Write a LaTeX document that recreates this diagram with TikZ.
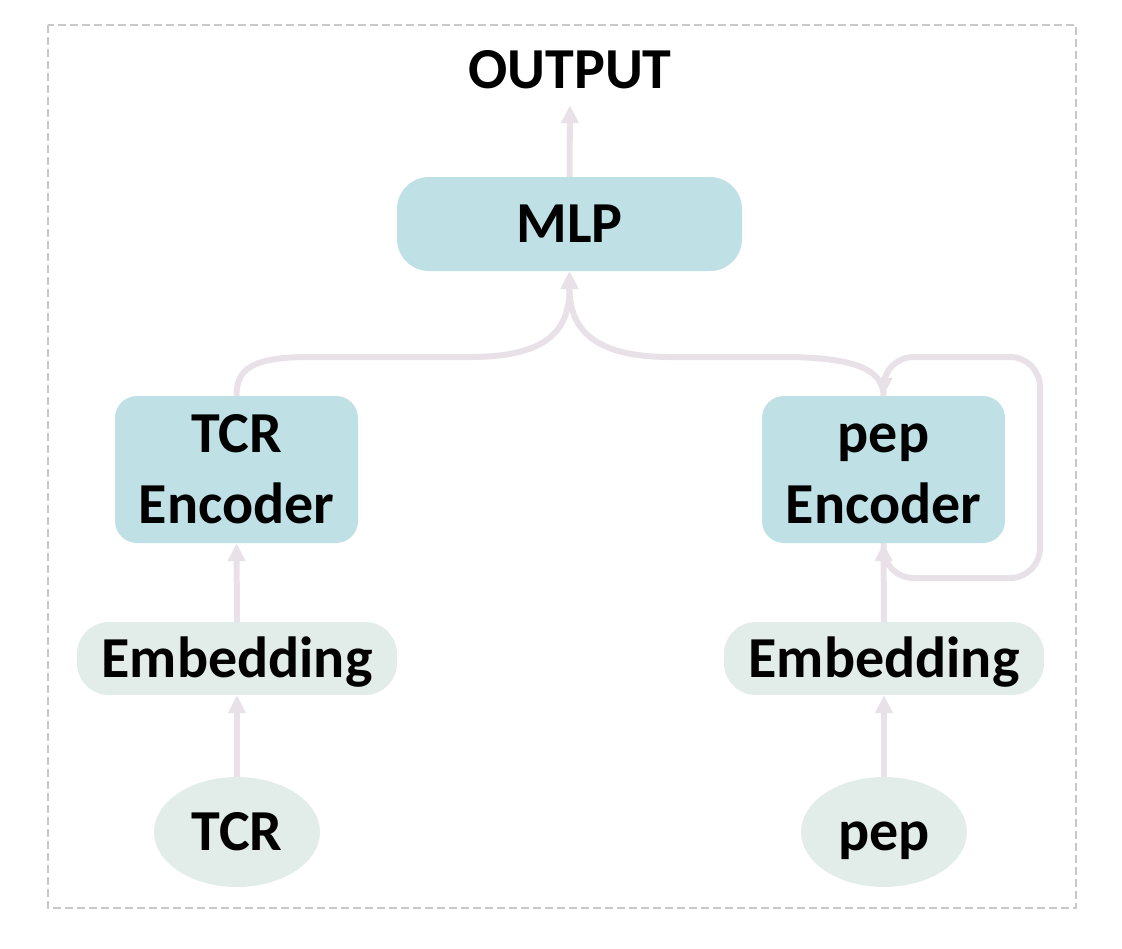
\documentclass[tikz,border=0pt]{standalone}
\usepackage{fontspec}
\setmainfont{Carlito}
\usetikzlibrary{arrows.meta,shapes.geometric}
\definecolor{encfill}{HTML}{BFE1E5}
\definecolor{embfill}{HTML}{E2ECE8}
\definecolor{arrcol}{HTML}{E8E2E8}
\definecolor{bordercol}{HTML}{C8C8C8}
\tikzset{
  lbl/.style={font=\fontsize{58}{71}\selectfont\bfseries, text=black},
  caps/.style={text height=37pt, text depth=0pt},
  encbox/.style={lbl, draw=none, fill=encfill, rounded corners=22pt, minimum width=243pt, minimum height=147pt, inner sep=0pt, align=center},
  mlpbox/.style={lbl, caps, draw=none, fill=encfill, rounded corners=32pt, minimum width=345pt, minimum height=94pt, inner sep=0pt},
  embbox/.style={lbl, caps, draw=none, fill=embfill, rounded corners=32pt, minimum width=320pt, minimum height=73pt, inner sep=0pt},
  inbox/.style={lbl, caps, ellipse, draw=none, fill=embfill, minimum width=166pt, minimum height=110pt, inner sep=0pt},
  arr/.style={draw=arrcol, line width=6pt, -{Triangle[width=17pt,length=18pt]}},
  conn/.style={draw=arrcol, line width=6pt},
  frame/.style={draw=bordercol, line width=2pt, dash pattern=on 8pt off 4pt}
}
\begin{document}
\begin{tikzpicture}[x=1pt,y=-1pt]
\useasboundingbox (0,0) rectangle (1122,948);
\draw[frame] (48,25) rectangle (1076,908);

\node[lbl, caps, inner sep=17pt] (output) at (570,69.5) {OUTPUT};
\node[mlpbox] (mlp) at (569.5,224) {MLP};
\node[encbox] (tcrenc) at (236.5,469.5) {\vphantom{T}TCR\\Encoder};
\node[encbox] (pepenc) at (883.5,469.5) {\vphantom{T}pep\\Encoder};
\node[embbox] (tcremb) at (237,658.5) {Embedding};
\node[embbox] (pepemb) at (884,658.5) {Embedding};
\node[inbox] (tcr) at (237,832) {TCR};
\node[inbox] (pep) at (884,832) {pep};

\draw[arr] (tcr.north) -- (tcremb.south);
\draw[arr] (tcremb.north) -- (tcrenc.south);
\draw[arr] (pep.north) -- (pepemb.south);
\draw[arr] (pepemb.north) -- (pepenc.south);
\draw[arr] (mlp.north) -- (output.south);

\draw[arr] (tcrenc.north) .. controls (236.5,370) and (250,357) .. (310,357)
  -- (470,357) .. controls (548,357) and (569.5,330) .. (mlp.south);
\draw[arr] (pepenc.north) .. controls (883.5,372) and (860,358) .. (790,357)
  -- (670,357) .. controls (595,357) and (569.5,330) .. (mlp.south);

\coordinate (loopstart) at (883.5,543);
\draw[arr, rounded corners=30pt] (loopstart) -- (883.5,578) -- (1040,578)
  -- (1040,357) -- (883.5,357) -- (pepenc.north);
\end{tikzpicture}
\end{document}
